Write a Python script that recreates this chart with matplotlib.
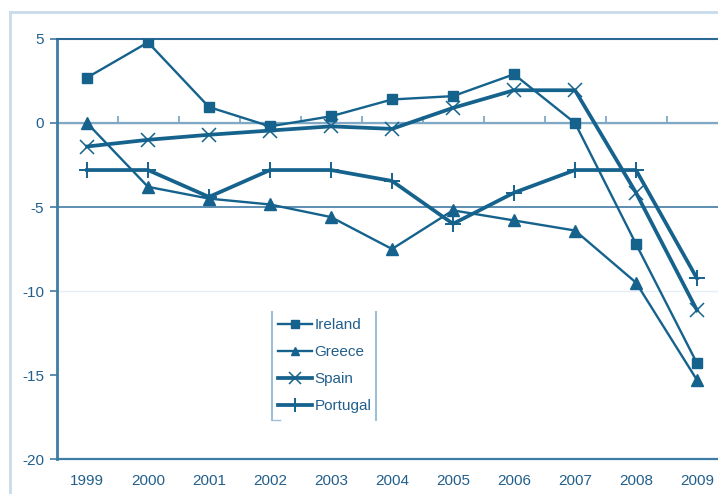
import matplotlib
matplotlib.use("Agg")
import matplotlib.pyplot as plt
from matplotlib.lines import Line2D

plt.rcParams['font.family'] = ['Liberation Sans', 'DejaVu Sans']

years = ["1999", "2000", "2001", "2002", "2003", "2004",
         "2005", "2006", "2007", "2008", "2009"]
ireland = [2.7, 4.8, 0.95, -0.2, 0.4, 1.4, 1.6, 2.9, 0.0, -7.2, -14.3]
greece = [0.0, -3.8, -4.5, -4.85, -5.6, -7.5, -5.2, -5.8, -6.4, -9.5, -15.3]
spain = [-1.4, -1.0, -0.7, -0.45, -0.2, -0.35, 0.9, 1.95, 1.95, -4.15, -11.15]
portugal = [-2.8, -2.8, -4.4, -2.8, -2.8, -3.45, -6.0, -4.15, -2.8, -2.8, -9.25]
y_ticks = [5, 0, -5, -10, -15, -20]

dark = "#15628d"
text_c = "#225f8c"

fig = plt.figure(figsize=(7.18, 4.94), dpi=100)
ax = fig.add_axes([56.5 / 718, 35 / 494, 671 / 718, 420 / 494])

x = list(range(len(years)))

# horizontal reference lines
for val, col, lw in [(0, "#7fa9c7", 1.6), (-5, "#4f86ad", 1.3), (-10, "#e6eef5", 1.0)]:
    ax.axhline(val, color=col, lw=lw, zorder=1)

ax.plot(x, ireland, color=dark, lw=1.7, marker='s', ms=7.5, label="Ireland", zorder=3)
ax.plot(x, greece, color=dark, lw=1.7, marker='^', ms=8, label="Greece", zorder=3)
ax.plot(x, spain, color=dark, lw=2.7, marker='x', ms=10, mew=1.1, label="Spain", zorder=3)
ax.plot(x, portugal, color=dark, lw=2.7, marker='+', ms=12, mew=1.4, label="Portugal", zorder=3)

ax.set_xlim(-0.5, len(years) - 0.5)
ax.set_ylim(-20, 5)

# spines
ax.spines["right"].set_visible(False)
ax.spines["top"].set_color("#2b6a96")
ax.spines["top"].set_linewidth(1.5)
ax.spines["bottom"].set_color("#3f7ca6")
ax.spines["bottom"].set_linewidth(1.6)
ax.spines["left"].set_color("#3f7ca6")
ax.spines["left"].set_linewidth(2.0)

ax.set_yticks(y_ticks)
ax.set_yticklabels([str(v) for v in y_ticks])
ax.tick_params(axis='y', direction='out', length=5, width=1.2, color="#3f7ca6",
               labelsize=11, labelcolor=text_c, pad=4)

ax.set_xticks(x)
ax.set_xticklabels(years)
ax.tick_params(axis='x', length=0, labelsize=11, labelcolor=text_c, pad=11)

# category axis crossing at zero, with ticks between categories
sec = ax.secondary_xaxis(0.8)
sec.spines["bottom"].set_visible(False)
sec.set_xticks([i + 0.5 for i in x[:-1]])
sec.set_xticklabels([])
sec.tick_params(axis='x', direction='out', length=5, width=1.3, color="#7fa9c7")

leg = ax.legend(loc="upper left", bbox_to_anchor=(275 / 718, (494 - 315) / 494),
                bbox_transform=fig.transFigure, frameon=False,
                fontsize=11, handlelength=2.2, handletextpad=0.2,
                labelspacing=0.86, borderaxespad=0, borderpad=0.2,
                markerscale=0.8)
for t in leg.get_texts():
    t.set_color(text_c)

# legend box sides
for xp in (272 / 718, 376 / 718):
    fig.add_artist(Line2D([xp, xp], [(494 - 420) / 494, (494 - 312) / 494],
                          transform=fig.transFigure, color="#9fbfd6", lw=1.5))
fig.add_artist(Line2D([272 / 718, 280 / 718], [(494 - 420) / 494] * 2,
                      transform=fig.transFigure, color="#9fbfd6", lw=1.0))

# outer frame
fig.add_artist(Line2D([10 / 718, 10 / 718], [0, (494 - 12) / 494],
                      transform=fig.transFigure, color="#c8dbea", lw=2))
fig.add_artist(Line2D([10 / 718, 1], [(494 - 12) / 494] * 2,
                      transform=fig.transFigure, color="#c8dbea", lw=2))

fig.savefig("out.png", dpi=100)
